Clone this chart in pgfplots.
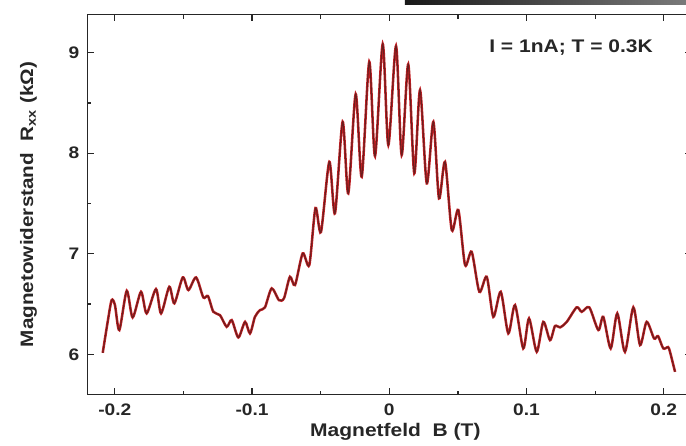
\documentclass[border=0pt]{standalone}
\usepackage{fontspec}
\setmainfont{Liberation Sans}[FakeStretch=1.15]
\usepackage{pgfplots}
\usepackage{pgfplotstable}
\pgfplotsset{compat=1.18}
\definecolor{curvered}{RGB}{195,30,35}
\definecolor{curvedark}{RGB}{105,30,30}
\pgfplotstableread{
B R
-0.2088 6.015
-0.2050 6.340
-0.2023 6.539
-0.1999 6.490
-0.1967 6.241
-0.1913 6.632
-0.1870 6.367
-0.1809 6.622
-0.1768 6.407
-0.1700 6.649
-0.1663 6.407
-0.1603 6.672
-0.1566 6.507
-0.1505 6.765
-0.1464 6.639
-0.1408 6.765
-0.1355 6.566
-0.1321 6.579
-0.1282 6.423
-0.1234 6.390
-0.1185 6.274
-0.1148 6.340
-0.1100 6.168
-0.1051 6.323
-0.1015 6.208
-0.0979 6.373
-0.0942 6.440
-0.0906 6.467
-0.0857 6.656
-0.0804 6.539
-0.0767 6.559
-0.0724 6.771
-0.0687 6.689
-0.0631 7.004
-0.0583 6.888
-0.0538 7.455
-0.0498 7.216
-0.0437 7.915
-0.0396 7.402
-0.0340 8.313
-0.0299 7.601
-0.0245 8.589
-0.0201 7.766
-0.0146 8.910
-0.0104 7.972
-0.0048 9.087
-0.0007 8.082
0.0049 9.067
0.0090 7.982
0.0138 8.885
0.0182 7.800
0.0224 8.629
0.0273 7.700
0.0321 8.313
0.0362 7.551
0.0406 7.915
0.0455 7.236
0.0503 7.435
0.0552 6.888
0.0600 7.020
0.0656 6.622
0.0710 6.771
0.0758 6.373
0.0812 6.622
0.0867 6.208
0.0916 6.490
0.0976 6.059
0.1018 6.357
0.1074 6.025
0.1122 6.323
0.1171 6.141
0.1207 6.281
0.1244 6.268
0.1293 6.323
0.1365 6.467
0.1402 6.423
0.1457 6.467
0.1523 6.241
0.1559 6.373
0.1613 6.059
0.1661 6.407
0.1717 6.025
0.1778 6.467
0.1827 6.092
0.1875 6.323
0.1929 6.158
0.1958 6.181
0.1996 6.059
0.2031 6.072
0.2045 6.025
0.2082 5.826
}\datatable
\begin{document}
\begin{tikzpicture}
\begin{axis}[
  scale only axis,
  width=452.9pt, height=285pt,
  xmin=-0.22, xmax=0.22, ymin=5.6, ymax=9.38,
  axis line style={line width=0.9pt, black!85},
  tick style={line width=0.9pt, black!85},
  tick align=inside,
  major tick length=5pt, minor tick length=3pt,
  xtick={-0.2,-0.1,0,0.1,0.2},
  xticklabels={-0.2,-0.1,0,0.1,0.2},
  ytick={6,7,8,9},
  yticklabels={6,7,8,9},
  minor x tick num=1, minor y tick num=1,
  tick label style={font=\bfseries\fontsize{12.5}{14}\selectfont, text=black!85},
  xticklabel style={yshift=-3.5pt},
  yticklabel style={xshift=-2.6pt},
  every axis y label/.style={at={(axis description cs:-0.0975,0.5)}, rotate=90, anchor=center, font=\bfseries\fontsize{13.5}{16}\selectfont, text=black!85},
  every axis x label/.style={at={(axis description cs:0.51,-0.0974)}, anchor=center, font=\bfseries\fontsize{13.7}{16}\selectfont, text=black!85},
  xlabel={Magnetfeld\ \ B (T)},
  ylabel={Magnetowiderstand\ \ R\textsubscript{xx} (kΩ)},
]
\addplot[curvered, line width=1.9pt, smooth, tension=0.45] table[x=B, y=R] {\datatable};
\addplot[curvedark, line width=0.8pt, smooth, tension=0.45] table[x=B, y=R] {\datatable};
\node[font=\bfseries\fontsize{13.7}{16}\selectfont, text=black!85, anchor=center] at (axis cs:0.1324,9.047) {I = 1nA; T = 0.3K};
\coordinate (BL) at (axis cs:-0.28365,5.0965);
\coordinate (TR) at (axis cs:0.21617,9.5244);
\coordinate (barA) at (axis cs:0.0114,9.4747);
\coordinate (barB) at (axis cs:0.23,9.5244);
\end{axis}
\shade[left color=black!90, right color=black!50] (barA) rectangle (barB);
\pgfresetboundingbox
\useasboundingbox (BL) rectangle (TR);
\end{tikzpicture}
\end{document}
